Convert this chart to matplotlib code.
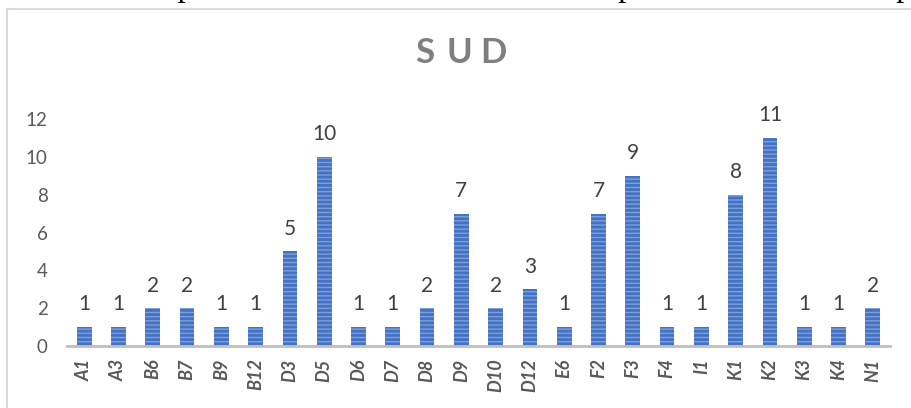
import matplotlib.pyplot as plt
from matplotlib.patches import Rectangle

plt.rcParams["font.family"] = ["Lato", "DejaVu Sans"]
plt.rcParams["hatch.linewidth"] = 2.0

categories = ["A1", "A3", "B6", "B7", "B9", "B12", "D3", "D5", "D6", "D7", "D8", "D9",
              "D10", "D12", "E6", "F2", "F3", "F4", "I1", "K1", "K2", "K3", "K4", "N1"]
counts = [1, 1, 2, 2, 1, 1, 5, 10, 1, 1, 2, 7, 2, 3, 1, 7, 9, 1, 1, 8, 11, 1, 1, 2]
yticks = [0, 2, 4, 6, 8, 10, 12]
title = "SUD"
caption = "Schéma multiple 2: Nombre de critères utilisés par SUDD Version 2 p"

fig = plt.figure(figsize=(9.11, 4.08), dpi=100)

# caption line of the document, cut off at the top
fig.text(-0.003, 1 + 4 / 408, caption, family=["Liberation Serif"], fontsize=23.5,
         ha="left", va="baseline", color="black")

# chart frame
fig.patches.append(Rectangle((7 / 911, -0.05), 1.0, 1 - 9 / 408 + 0.05,
                             transform=fig.transFigure, fill=False,
                             edgecolor="#d9d9d9", linewidth=1.5))

ax = fig.add_axes([67 / 911, 62 / 408, 823 / 911, 227 / 408])
x = range(len(categories))
ax.bar(x, counts, width=0.43, color="#7F9FD8", edgecolor="#4472C4",
       linewidth=0, hatch="----")

for xi, v in zip(x, counts):
    ax.annotate(str(v), (xi, v), xytext=(0, 12), textcoords="offset points",
                ha="center", va="baseline", fontsize=15, color="#404040")

ax.set_xlim(-0.5, len(categories) - 0.5)
ax.set_ylim(0, 12)
ax.set_yticks(yticks)
ax.set_xticks(list(x))
ax.set_xticklabels(categories, rotation=90, style="italic", fontweight="bold",
                   fontsize=13, color="#595959")
ax.tick_params(axis="y", length=0, pad=14, labelsize=13.5, labelcolor="#595959")
ax.tick_params(axis="x", length=0, pad=9)
for side in ["top", "right", "left"]:
    ax.spines[side].set_visible(False)
ax.spines["bottom"].set_color("#bfbfbf")
ax.spines["bottom"].set_linewidth(2)
ax.set_facecolor("none")

# spaced-out title letters
for letter, cx in zip(title, [425, 459, 493]):
    fig.text(cx / 911, 1 - 53 / 408, letter, ha="center", va="center",
             fontsize=25, fontweight="bold", color="#7f7f7f")

fig.savefig("out.png", dpi=100)
